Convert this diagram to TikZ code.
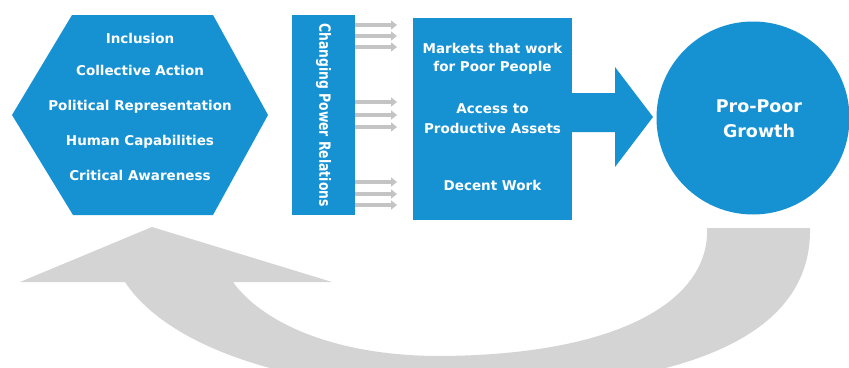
\documentclass[tikz,border=0pt]{standalone}
\usepackage{fontspec}
\setmainfont{DejaVu Sans}
\usetikzlibrary{calc,arrows.meta}
\definecolor{cblue}{RGB}{22,146,211}
\definecolor{cgray}{RGB}{212,212,212}
\definecolor{sgray}{RGB}{196,196,196}
\begin{document}
\begin{tikzpicture}[x=1pt,y=-1pt,
  bluebox/.style={fill=cblue, draw=none, inner sep=0pt, outer sep=0pt},
  txt/.style={text=white, font=\bfseries\fontsize{13.5}{16}\selectfont, anchor=base, inner sep=0pt},
  bigtxt/.style={text=white, font=\bfseries\fontsize{17.5}{20}\selectfont, anchor=base, inner sep=0pt},
  smallarrow/.style={draw=sgray, line width=3.5pt, -{Triangle[length=6pt,width=9pt]}}]
\useasboundingbox (0,0) rectangle (849,367);
\fill[white] (0,0) rectangle (849,367);

% return arrow (grey)
\begin{scope}
\clip (0,0) rectangle (849,367);
\fill[cgray] (810,228) -- (707,228)
  .. controls (710,300) and (620,355) .. (440,356)
  .. controls (330,356) and (260,320) .. (233,282)
  -- (332,282) -- (152,227) -- (20,282) -- (125,282)
  .. controls (170,350) and (300,390) .. (450,390)
  .. controls (700,390) and (812,330) .. (810,228) -- cycle;
\end{scope}

% hexagon
\fill[cblue] (72,15) -- (213,15) -- (268,115) -- (213,215) -- (73,215) -- (12,115) -- cycle;
\node[txt] (h1) at (140,43) {Inclusion};
\node[txt] (h2) at (140,75) {Collective Action};
\node[txt] (h3) at (140,110) {Political Representation};
\node[txt] (h4) at (140,145) {Human Capabilities};
\node[txt] (h5) at (140,180) {Critical Awareness};

% changing power relations
\node[bluebox, minimum width=63pt, minimum height=200pt] (power) at (323.5,115) {};
\node[text=white, font=\bfseries\fontsize{15.5}{18}\selectfont, rotate=-90, inner sep=0pt] (powertxt) at (power.center)
  {\scalebox{0.8}[1]{Changing Power Relations}};

% outcomes box
\node[bluebox, minimum width=159pt, minimum height=202pt] (out) at (492.5,119) {};
\node[txt] (o1) at (492.5,53.3) {Markets that work};
\node[txt] (o2) at (492.5,71.7) {for Poor People};
\node[txt] (o3) at (492.5,113) {Access to};
\node[txt] (o4) at (492.5,133) {Productive Assets};
\node[txt] (o5) at (492.5,190) {Decent Work};

% small arrows
\foreach \s in {90,79,68,13,0,-12,-67,-79,-90}{
  \draw[smallarrow] ([yshift=\s pt]power.east) coordinate (st) -- ($(out.west |- st)+(-16,0)$);
}

% circle
\node[circle, fill=cblue, minimum size=193pt, inner sep=0pt] (growth) at (753,118) {};
\node[bigtxt] (g1) at (759,112.3) {Pro-Poor};
\node[bigtxt] (g2) at (759,137.7) {Growth};

% big blue arrow
\fill[cblue] (out.east |- 0,93) -- (615,93) -- (615,67) -- (653,117) -- (615,167) -- (615,132) -- (out.east |- 0,132) -- cycle;
\end{tikzpicture}
\end{document}
